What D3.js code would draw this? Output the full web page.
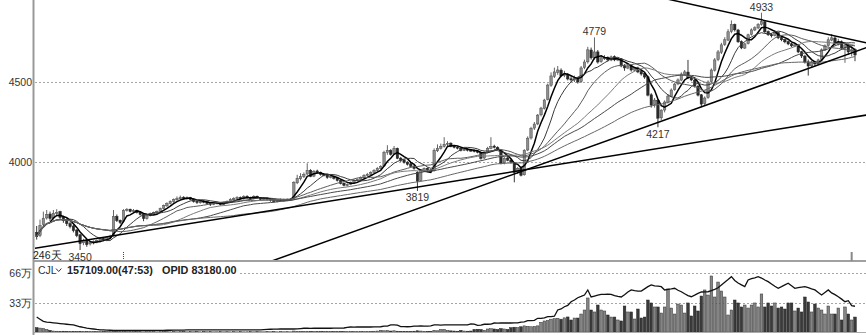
<!DOCTYPE html>
<html><head><meta charset="utf-8">
<script src="https://cdn.jsdelivr.net/npm/d3@7"></script>
<style>html,body{margin:0;padding:0;background:#fff;}svg{display:block;}text{font-family:"Liberation Sans",Arial,sans-serif;}</style>
</head><body><svg id="c" width="866" height="335"></svg>
<script>
const opens=[3560,3540,3610,3650,3675,3650,3680,3690,3655,3640,
3615,3600,3575,3545,3495,3512,3488,3495,3500,3507,
3522,3512,3526,3540,3660,3636,3628,3698,3705,3690,
3698,3686,3675,3648,3665,3676,3683,3692,3710,3726,
3740,3752,3764,3770,3780,3771,3779,3768,3755,3745,
3755,3752,3742,3736,3748,3742,3734,3746,3752,3764,
3771,3779,3770,3786,3777,3771,3786,3777,3765,3773,
3767,3760,3752,3759,3767,3759,3765,3768,3870,3895,
3908,3925,3948,3912,3944,3936,3924,3918,3903,3911,
3897,3884,3868,3852,3861,3872,3886,3890,3903,3916,
3924,3936,3947,3958,3975,4060,4072,4050,4085,4024,
4012,3999,3988,3975,3935,3885,3949,3961,3950,3945,
4070,4085,4097,4110,4118,4099,4093,4087,4072,4081,
4074,4072,4068,4060,4025,4060,4085,4099,4090,4075,
3995,4025,4012,3995,3938,3962,3920,4075,4150,4212,
4238,4295,4335,4390,4480,4535,4560,4574,4540,4548,
4520,4512,4526,4502,4590,4626,4700,4652,4688,4627,
4650,4652,4637,4658,4637,4645,4602,4587,4601,4574,
4588,4565,4552,4532,4420,4358,4385,4276,4325,4374,
4410,4452,4488,4512,4548,4562,4526,4512,4474,4420,
4365,4402,4502,4574,4640,4686,4735,4762,4815,4860,
4825,4752,4712,4740,4797,4825,4838,4860,4876,4815,
4796,4790,4808,4777,4765,4752,4739,4725,4731,4689,
4662,4626,4601,4626,4612,4640,4700,4727,4762,4775,
4737,4750,4712,4733,4690,4702];
const highs=[3600,3640,3690,3700,3690,3700,3705,3695,3665,3648,
3625,3608,3580,3550,3520,3518,3505,3510,3516,3530,
3530,3535,3545,3700,3672,3640,3705,3712,3708,3706,
3702,3692,3680,3672,3684,3690,3697,3715,3734,3748,
3760,3772,3785,3790,3786,3785,3782,3772,3760,3760,
3762,3758,3750,3754,3752,3748,3752,3760,3774,3780,
3786,3784,3792,3792,3783,3792,3790,3781,3779,3778,
3772,3766,3766,3772,3770,3772,3774,3880,3920,3930,
3935,3992,3955,3950,3952,3940,3930,3925,3918,3915,
3902,3890,3872,3866,3878,3892,3898,3910,3924,3932,
3942,3955,3968,3980,4070,4105,4080,4100,4090,4032,
4020,4005,3995,3980,3942,3955,3966,3966,3956,4085,
4110,4115,4155,4130,4122,4105,4100,4092,4090,4088,
4082,4080,4074,4065,4066,4095,4155,4108,4098,4080,
4032,4035,4020,4000,3968,3970,4080,4160,4220,4250,
4300,4345,4395,4490,4560,4590,4600,4585,4570,4555,
4535,4540,4530,4600,4640,4720,4715,4779,4700,4665,
4668,4660,4665,4666,4652,4650,4612,4610,4608,4595,
4596,4575,4560,4540,4430,4400,4392,4330,4385,4425,
4460,4495,4522,4560,4575,4638,4535,4520,4480,4425,
4410,4510,4585,4650,4700,4745,4780,4830,4885,4865,
4832,4760,4745,4802,4835,4848,4868,4933,4880,4822,
4805,4825,4812,4784,4770,4760,4745,4740,4738,4695,
4670,4640,4632,4632,4645,4710,4735,4780,4800,4785,
4770,4760,4748,4740,4722,4710];
const lows=[3515,3530,3600,3640,3630,3640,3660,3640,3620,3600,
3585,3560,3530,3450,3480,3470,3478,3485,3492,3498,
3505,3505,3518,3535,3625,3612,3620,3690,3685,3685,
3678,3666,3630,3640,3660,3670,3678,3688,3705,3720,
3735,3745,3758,3762,3765,3764,3760,3746,3738,3740,
3742,3735,3725,3730,3735,3728,3730,3740,3748,3758,
3765,3765,3764,3772,3764,3766,3772,3760,3760,3758,
3752,3746,3747,3752,3754,3755,3758,3764,3862,3885,
3900,3918,3905,3905,3928,3915,3910,3895,3898,3890,
3878,3860,3848,3846,3855,3866,3880,3884,3898,3910,
3918,3930,3940,3952,3970,4045,4040,4045,4018,4000,
3990,3978,3965,3952,3819,3878,3942,3940,3935,3940,
4062,4078,4090,4100,4092,4085,4079,4066,4068,4066,
4065,4060,4054,4015,4018,4055,4080,4085,4072,3985,
3985,4005,3990,3873,3925,3910,3915,4068,4140,4200,
4230,4285,4328,4385,4470,4525,4545,4530,4530,4510,
4500,4500,4490,4495,4580,4615,4640,4640,4615,4620,
4638,4628,4630,4630,4630,4592,4570,4580,4565,4566,
4555,4540,4520,4410,4340,4340,4217,4262,4310,4365,
4405,4445,4480,4505,4540,4518,4505,4465,4410,4343,
4355,4395,4495,4565,4630,4675,4725,4755,4805,4815,
4745,4705,4706,4735,4790,4818,4830,4852,4805,4788,
4778,4785,4768,4755,4742,4730,4718,4718,4680,4650,
4615,4540,4592,4598,4606,4635,4694,4720,4755,4730,
4728,4700,4620,4670,4660,4630];
const closes=[3534,3603,3647,3672,3647,3678,3684,3653,3634,3615,
3596,3571,3540,3490,3509,3484,3496,3502,3509,3521,
3515,3528,3534,3659,3634,3622,3697,3703,3691,3697,
3684,3672,3647,3666,3678,3684,3691,3709,3728,3741,
3753,3766,3772,3778,3772,3778,3766,3753,3747,3753,
3753,3741,3735,3747,3741,3735,3747,3753,3766,3772,
3778,3772,3785,3778,3772,3785,3778,3766,3772,3766,
3760,3753,3760,3766,3760,3766,3766,3873,3898,3910,
3923,3948,3910,3942,3935,3923,3917,3904,3910,3898,
3885,3866,3854,3860,3873,3885,3891,3904,3917,3923,
3935,3948,3960,3973,4061,4073,4048,4086,4023,4011,
3998,3986,3973,3960,3880,3948,3960,3948,3942,4073,
4086,4098,4111,4117,4098,4092,4086,4073,4080,4073,
4073,4067,4061,4023,4061,4086,4098,4092,4080,3992,
4023,4011,3998,3935,3960,3917,4073,4149,4211,4237,
4293,4337,4387,4481,4538,4563,4575,4538,4550,4519,
4513,4525,4500,4588,4625,4701,4651,4688,4625,4651,
4651,4638,4657,4638,4644,4600,4588,4600,4575,4588,
4563,4550,4531,4418,4356,4387,4274,4324,4375,4412,
4450,4487,4513,4550,4563,4525,4513,4475,4418,4362,
4400,4500,4575,4638,4688,4732,4764,4814,4858,4826,
4751,4713,4738,4795,4826,4839,4858,4877,4814,4795,
4789,4807,4776,4764,4751,4738,4726,4732,4688,4663,
4625,4600,4625,4613,4638,4701,4726,4764,4776,4738,
4751,4713,4732,4688,4701,4669];
// volume (万手)
const volumes=[5,4.5,4,3,2,1.2,1,0.8,1,0.8,
0.6,0.8,0.5,0.9,0.6,0.5,0.7,0.5,0.6,0.4,
0.5,0.4,0.6,0.8,0.5,0.4,0.6,0.5,0.4,0.5,
0.4,0.5,0.3,0.4,0.5,0.4,0.3,0.4,0.5,0.4,
0.3,0.4,0.3,0.5,0.4,0.3,0.4,0.3,0.4,0.3,
0.4,0.3,0.4,0.3,0.3,0.4,0.3,0.4,0.3,0.4,
0.3,0.4,0.3,0.3,0.4,0.3,0.4,0.3,0.3,0.4,
0.3,0.4,0.3,0.4,0.3,0.4,0.3,1.2,0.8,0.6,
0.7,0.9,0.6,0.5,0.6,0.5,0.4,0.5,0.6,0.5,
0.5,0.6,0.5,0.4,0.5,0.6,0.5,0.6,0.5,0.7,
0.8,1.0,1.2,2.0,1.5,1.8,1.2,1.5,1.0,0.8,
0.9,0.8,0.7,1.0,1.5,1.2,0.9,0.8,0.9,2.0,
1.5,3.0,3.0,1.8,1.4,1.2,1.0,2.0,1.2,1.0,
1.2,3.0,3.2,3.0,2.0,3.5,3.8,3.5,3.0,4.0,
3.5,3.0,5.0,5.5,5.0,6.0,7.0,6.5,6.0,6.5,
7.0,11.0,12.5,13.0,14.5,15.0,15.5,14.5,16.0,17.0,
13.6,15.8,15.8,20.3,24.8,38.3,24.8,22.6,30.4,24.8,23.7,19.2,
16.9,16.9,13.6,12.5,29.3,22.6,22.6,14.7,25.9,15.8,
16.9,36.0,32.7,28.2,28.2,21.4,28.2,48.4,27.0,20.3,
31.5,30.4,21.4,32.7,18.1,29.3,23.7,40.5,47.3,41.6,
63.0,39.4,56.2,46.1,39.4,19.2,24.8,36.0,32.7,28.2,
30.4,27.0,30.4,32.7,28.2,42.8,28.2,32.7,29.3,32.7,
27.0,28.2,25.9,32.7,32.7,23.7,27.0,22.6,39.4,33.8,
22.6,31.5,27.0,24.8,20.3,29.3,20.3,20.3,27.0,13.6,
28.2,20.3,13.6,16.9];
// open interest (万手)
const openInterest=[16.9,14.5,12.0,11.2,10.8,10.4,10.0,9.6,9.2,8.8,8.4,8.0,7.0,6.0,5.2,4.5,4.0,3.5,3.0,2.6,2.4,
2.2,2.1,2.0,2.0,1.9,1.9,2.0,2.0,1.9,1.9,1.9,2.0,2.0,2.0,1.9,1.9,2.0,2.0,2.1,2.1,2.2,2.2,
2.3,2.3,2.4,2.4,2.4,2.4,2.4,2.4,2.4,2.4,2.4,2.4,2.4,2.4,2.4,2.4,2.4,2.4,2.4,2.4,2.5,2.5,2.5,2.5,
2.6,2.8,3.0,3.2,3.3,3.4,
3.5,3.5,3.5,3.6,3.5,3.6,
4.0,4.3,4.3,4.2,4.3,4.4,4.3,4.3,4.4,4.3,4.4,4.5,4.4,4.6,
5.2,5.7,5.6,5.7,5.7,5.8,5.7,5.7,5.8,5.9,6.0,
6.8,6.8,8.0,8.0,7.8,6.1,6.1,6.0,6.2,
6.8,6.8,6.9,6.8,6.8,7.0,
8.0,8.0,7.9,8.0,8.1,8.0,8.0,8.0,8.1,8.0,8.1,
9.1,9.0,7.6,7.8,8.8,8.8,9.0,
10.2,10.1,10.2,10.3,10.2,10.2,10.4,10.3,
11.3,11.5,12.8,12.8,13.2,15.5,15.5,16.0,17.3,17.3,17.8,24.8,26.0,28.5,30.0,
34.1,36.0,38.6,40.0,41.6,47.3,39.4,40.5,41.5,42.4,
42.4,42.6,42.4,41.0,40.0,39.4,42.0,45.0,47.3,46.5,
46.0,46.1,48.5,51.0,53.0,52.0,51.5,51.0,47.3,48.0,
48.5,49.2,47.0,45.3,43.0,41.0,39.7,41.5,43.5,45.0,
45.2,45.3,46.5,48.0,49.8,53.0,56.0,59.0,62.2,58.0,
55.1,53.0,51.0,58.5,60.0,61.0,62.2,60.7,58.5,56.6,
54.0,51.5,49.2,51.0,53.0,54.8,52.0,49.2,50.0,50.5,
51.0,49.8,48.5,47.3,44.5,41.6,44.5,47.3,44.0,42.0,
39.7,37.0,34.1,35.2,29.6,29.0];
const maPeriods=[5,10,20,30,40,60];
const priceTicks=[4000,4500];
const volTicks=[33,66];
const peakLabels=[
 {i:167,price:4779,text:"4779",pos:"above"},
 {i:186,price:4217,text:"4217",pos:"below"},
 {i:217,price:4933,text:"4933",pos:"above"},
 {i:114,price:3819,text:"3819",pos:"below"},
 {i:13,price:3450,text:"3450",pos:"below"}];
const trendLines=[
 {i0:0,p0:3462,i1:245,p1:4282},
 {i0:0,p0:2854,i1:245,p1:4689},
 {i0:190,p0:5013,i1:245,p1:4760}];
const daysLabel="246天";
const headerTexts=["CJL","157109.00(47:53)","OPID 83180.00"];
const markerIdx=[26,244];

const N=closes.length;
[opens,highs,lows,volumes,openInterest].forEach((a,k)=>{if(a.length!==N)console.error("len mismatch",k,a.length,N);});

const svg=d3.select("#c");
const x=d3.scaleLinear().domain([0,245]).range([36.67,855]);
const yP=d3.scaleLinear().domain([4000,4500]).range([162,82]);
const yV=d3.scaleLinear().domain([0,66]).range([332.1,273.3]);
const defs=svg.append("defs");
defs.append("clipPath").attr("id","cp").append("rect").attr("x",35).attr("y",0).attr("width",831).attr("height",260);
defs.append("clipPath").attr("id","cv").append("rect").attr("x",35).attr("y",262).attr("width",831).attr("height",70.5);

// grid
const grid=svg.append("g").attr("stroke","#a5a5a5").attr("stroke-dasharray","2,2").attr("stroke-width",1);
priceTicks.forEach(t=>grid.append("line").attr("x1",35).attr("x2",866).attr("y1",Math.round(yP(t))+0.5).attr("y2",Math.round(yP(t))+0.5));
volTicks.forEach(t=>grid.append("line").attr("x1",t===66?240:35).attr("x2",866).attr("y1",Math.round(yV(t))+0.5).attr("y2",Math.round(yV(t))+0.5));

// price panel
const gp=svg.append("g").attr("clip-path","url(#cp)");
const idx=d3.range(N);
const up=i=>closes[i]>=opens[i];
gp.append("g").selectAll("line").data(idx).join("line")
 .attr("x1",i=>x(i)).attr("x2",i=>x(i)).attr("y1",i=>yP(highs[i])).attr("y2",i=>yP(lows[i]))
 .attr("stroke",i=>up(i)?"#555":"#222").attr("stroke-width",0.9);
gp.append("g").selectAll("rect").data(idx).join("rect")
 .attr("x",i=>x(i)-1.2).attr("width",2.4)
 .attr("y",i=>yP(Math.max(opens[i],closes[i])))
 .attr("height",i=>Math.max(1,yP(Math.min(opens[i],closes[i]))-yP(Math.max(opens[i],closes[i]))))
 .attr("fill",i=>up(i)?"#8e8e8e":"#2a2a2a").attr("stroke",i=>up(i)?"#4a4a4a":"#222").attr("stroke-width",0.5);

const maColors=["#000","#3a3a3a","#5c5c5c","#7a7a7a","#484848","#666"];
const maWidths=[1.5,1,1,1,1,1];
maPeriods.forEach((n,k)=>{
  const vals=closes.map((_,i)=>d3.mean(closes.slice(Math.max(0,i-n+1),i+1)));
  gp.append("path").datum(vals).attr("fill","none").attr("stroke",maColors[k]).attr("stroke-width",maWidths[k])
   .attr("d",d3.line().x((d,i)=>x(i)).y(d=>yP(d)));
});
const iA=x.invert(30), iB=x.invert(870);
trendLines.forEach(t=>{
  const pr=i=>t.p0+(t.p1-t.p0)*(i-t.i0)/(t.i1-t.i0);
  gp.append("line").attr("x1",x(iA)).attr("y1",yP(pr(iA))).attr("x2",x(iB)).attr("y2",yP(pr(iB)))
   .attr("stroke","#000").attr("stroke-width",1.5);
});

// volume panel
const gv=svg.append("g").attr("clip-path","url(#cv)");
gv.append("g").selectAll("rect").data(idx).join("rect")
 .attr("x",i=>x(i)-1.3).attr("width",2.6)
 .attr("y",i=>yV(volumes[i])).attr("height",i=>yV(0)-yV(volumes[i]))
 .attr("fill",i=>up(i)?"#858585":"#3a3a3a").attr("stroke",i=>up(i)?"#333":"#222").attr("stroke-width",0.5);
gv.append("path").datum(openInterest).attr("fill","none").attr("stroke","#111").attr("stroke-width",1.3)
 .attr("d",d3.line().x((d,i)=>x(i)).y(d=>yV(d)));

// frame
svg.append("line").attr("x1",33).attr("x2",866).attr("y1",261).attr("y2",261).attr("stroke","#a0a0a0").attr("stroke-width",2);
svg.append("line").attr("x1",33).attr("x2",866).attr("y1",332.5).attr("y2",332.5).attr("stroke","#aaa").attr("stroke-width",1);
svg.append("line").attr("x1",33.5).attr("x2",33.5).attr("y1",0).attr("y2",335).attr("stroke","#999").attr("stroke-width",2);

// markers
svg.append("line").attr("x1",x(markerIdx[0])).attr("x2",x(markerIdx[0])).attr("y1",252).attr("y2",260).attr("stroke","#444").attr("stroke-dasharray","1,1").attr("stroke-width",1);
svg.append("line").attr("x1",x(markerIdx[1])).attr("x2",x(markerIdx[1])).attr("y1",252).attr("y2",261).attr("stroke","#888").attr("stroke-width",2);

// axes
const ax=svg.append("g").attr("transform","translate(32,0)")
 .call(d3.axisLeft(yP).tickValues(priceTicks).tickSize(0).tickPadding(0).tickFormat(d3.format("d")));
ax.select(".domain").remove();
ax.selectAll("text").attr("font-size",10.5).attr("fill","#333").attr("font-family","Liberation Sans, Arial, sans-serif");
const av=svg.append("g").attr("transform","translate(32,0)")
 .call(d3.axisLeft(yV).tickValues(volTicks).tickSize(0).tickPadding(0).tickFormat(d=>d+"万"));
av.select(".domain").remove();
av.selectAll("text").attr("font-size",10.5).attr("fill","#333").attr("font-family","Liberation Sans, Arial, sans-serif");

// labels
svg.append("g").selectAll("text").data(peakLabels).join("text")
 .attr("x",d=>x(d.i)).attr("y",d=>d.pos==="above"?yP(d.price)-2:yP(d.price)+10.5)
 .attr("text-anchor","middle").attr("font-size",10.5).attr("fill","#333").text(d=>d.text);
svg.append("text").attr("x",33).attr("y",258.5).attr("font-size",10.5).attr("fill","#222").text(daysLabel);

// header
svg.append("text").attr("x",38).attr("y",274).attr("font-size",10.5).attr("fill","#333").text(headerTexts[0]);
svg.append("path").attr("d","M56,268.5 L58.7,271.5 L61.4,268.5").attr("fill","none").attr("stroke","#333").attr("stroke-width",1);
svg.append("text").attr("x",67).attr("y",274).attr("font-size",10.8).attr("font-weight","bold").attr("fill","#222").text(headerTexts[1]);
svg.append("text").attr("x",162).attr("y",274).attr("font-size",10.8).attr("font-weight","bold").attr("fill","#222").text(headerTexts[2]);
</script></body></html>
